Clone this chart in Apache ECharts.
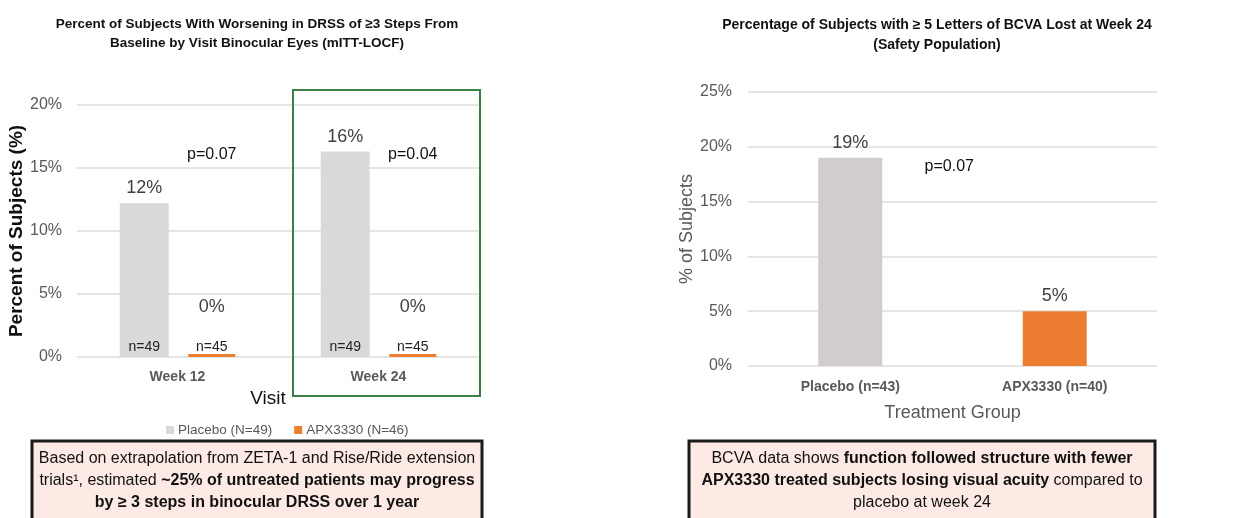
<!DOCTYPE html>
<html>
<head>
<meta charset="utf-8">
<script src="https://cdn.jsdelivr.net/npm/echarts@6/dist/echarts.min.js"></script>
<style>
  html, body { margin: 0; padding: 0; background: #fff; }
  #chart { width: 1238px; height: 518px; }
</style>
</head>
<body>
<div id="chart"></div>
<script>
// DRSS worsening by visit
var visits = ['Week 12', 'Week 24'];
var placeboDrss = [12.2, 16.3];
var apxDrss = [0, 0];
var placeboN = [49, 49];
var apxN = [45, 45];
var drssP = ['p=0.07', 'p=0.04'];

// BCVA loss at week 24
var groups = ['Placebo (n=43)', 'APX3330 (n=40)'];
var bcvaValues = [19, 5];
var bcvaP = 'p=0.07';

var FONT = 'Liberation Sans, Arial, sans-serif';
var GREY = '#595959';

var chart = echarts.init(document.getElementById('chart'));

function pct(p) { return Math.round(p.value) + '%'; }

function nMarks(cats, ns) {
    return cats.map(function (c, i) {
        return { coord: [c, 0], value: 'n=' + ns[i] };
    });
}

var option = {
    animation: false,
    textStyle: { fontFamily: FONT },
    title: [
        {
            text: 'Percent of Subjects With Worsening in DRSS of ≥3 Steps From\nBaseline by Visit Binocular Eyes (mITT-LOCF)',
            left: 252, top: 10, textAlign: 'center',
            textStyle: { fontSize: 13.5, fontWeight: 'bold', color: '#111', lineHeight: 19 }
        },
        {
            text: 'Percentage of Subjects with ≥ 5 Letters of BCVA Lost at Week 24\n(Safety Population)',
            left: 932, top: 10, textAlign: 'center',
            textStyle: { fontSize: 14, fontWeight: 'bold', color: '#111', lineHeight: 20 }
        }
    ],
    legend: {
        data: ['Placebo (N=49)', 'APX3330 (N=46)'],
        left: 161, top: 418,
        itemWidth: 8, itemHeight: 8, itemGap: 22,
        icon: 'rect',
        textStyle: { fontSize: 13.5, color: GREY, padding: [0, 0, 0, -1] }
    },
    grid: [
        { left: 77, top: 105, width: 402, height: 252 },
        { left: 748, top: 92, width: 409, height: 274 }
    ],
    xAxis: [
        {
            type: 'category', gridIndex: 0, data: visits,
            name: 'Visit', nameLocation: 'middle', nameGap: 32,
            nameTextStyle: { fontSize: 19, color: '#111', padding: [0, 20, 0, 0] },
            axisLine: { show: false }, axisTick: { show: false },
            axisLabel: { fontSize: 14, fontWeight: 'bold', color: GREY, margin: 13 }
        },
        {
            type: 'category', gridIndex: 1, data: groups,
            name: 'Treatment Group', nameLocation: 'middle', nameGap: 38,
            nameTextStyle: { fontSize: 18, color: GREY },
            axisLine: { show: false }, axisTick: { show: false },
            axisLabel: { fontSize: 14, fontWeight: 'bold', color: GREY, margin: 14 }
        }
    ],
    yAxis: [
        {
            type: 'value', gridIndex: 0, min: 0, max: 20, interval: 5,
            name: 'Percent of Subjects (%)', nameLocation: 'middle', nameGap: 49, nameRotate: 90,
            nameTextStyle: { fontSize: 19, fontWeight: 'bold', color: '#111' },
            axisLabel: { formatter: '{value}%', fontSize: 16, color: GREY, margin: 15 },
            splitLine: { lineStyle: { color: '#dcdcdc', width: 1.5 } }
        },
        {
            type: 'value', gridIndex: 1, min: 0, max: 25, interval: 5,
            name: '% of Subjects', nameLocation: 'middle', nameGap: 52, nameRotate: 90,
            nameTextStyle: { fontSize: 18, color: GREY },
            axisLabel: { formatter: '{value}%', fontSize: 16, color: GREY, margin: 16 },
            splitLine: { lineStyle: { color: '#dcdcdc', width: 1.5 } }
        }
    ],
    series: [
        {
            name: 'Placebo (N=49)', type: 'bar', xAxisIndex: 0, yAxisIndex: 0,
            data: placeboDrss, barWidth: 49, barGap: '40%',
            itemStyle: { color: '#d9d9d9' },
            label: { show: true, position: 'top', distance: 6, formatter: pct, fontSize: 18, color: '#404040' },
            markPoint: {
                symbolSize: 0,
                label: { show: true, position: 'top', distance: 3, fontSize: 14, color: '#222', formatter: '{c}' },
                data: nMarks(visits, placeboN)
            }
        },
        {
            name: 'APX3330 (N=46)', type: 'bar', xAxisIndex: 0, yAxisIndex: 0,
            data: apxDrss, barWidth: 47, barGap: '40%', barMinHeight: 3,
            itemStyle: { color: '#ed7d31' },
            label: { show: true, position: 'top', distance: 38, formatter: pct, fontSize: 18, color: '#404040' },
            markPoint: {
                symbolSize: 0,
                label: { show: true, position: 'top', distance: 3, fontSize: 14, color: '#222', formatter: '{c}' },
                data: nMarks(visits, apxN).concat(visits.map(function (c, i) {
                    return {
                        coord: [c, 16.1], value: drssP[i],
                        label: { position: 'inside', fontSize: 16, color: '#111' }
                    };
                }))
            }
        },
        {
            name: 'BCVA', type: 'bar', xAxisIndex: 1, yAxisIndex: 1,
            data: bcvaValues.map(function (v, i) {
                return { value: v, itemStyle: { color: ['#d0cdcc', '#ed7d31'][i] } };
            }),
            barWidth: 64,
            label: { show: true, position: 'top', distance: 6, formatter: pct, fontSize: 18, color: '#404040' },
            markPoint: {
                symbolSize: 0,
                label: { show: true, position: 'inside', offset: [99, 0], fontSize: 16, color: '#111', formatter: '{c}' },
                data: [{ coord: [groups[0], 18.2], value: bcvaP }]
            }
        }
    ],
    graphic: [
        {
            type: 'rect', z: 10,
            shape: { x: 293, y: 90, width: 187, height: 306 },
            style: { fill: 'none', stroke: '#3d7f45', lineWidth: 2 }
        },
        {
            type: 'group', z: 10,
            children: [
                {
                    type: 'rect',
                    shape: { x: 32, y: 441, width: 450, height: 110 },
                    style: { fill: '#fdeae4', stroke: '#1a1a1a', lineWidth: 3 }
                },
                {
                    type: 'text',
                    style: {
                        x: 257, y: 448, align: 'center', verticalAlign: 'top',
                        text: '{n|Based on extrapolation from ZETA-1 and Rise/Ride extension}\n' +
                              '{n|trials¹, estimated }{b|~25% of untreated patients may progress}\n' +
                              '{b|by ≥ 3 steps in binocular DRSS over 1 year}',
                        rich: {
                            n: { fontFamily: FONT, fontSize: 16, lineHeight: 22, fill: '#111' },
                            b: { fontFamily: FONT, fontSize: 16, lineHeight: 22, fontWeight: 'bold', fill: '#111' }
                        }
                    }
                },
                {
                    type: 'rect',
                    shape: { x: 689, y: 441, width: 466, height: 110 },
                    style: { fill: '#fdeae4', stroke: '#1a1a1a', lineWidth: 3 }
                },
                {
                    type: 'text',
                    style: {
                        x: 922, y: 448, align: 'center', verticalAlign: 'top',
                        text: '{n|BCVA data shows }{b|function followed structure with fewer}\n' +
                              '{b|APX3330 treated subjects losing visual acuity}{n| compared to}\n' +
                              '{n|placebo at week 24}',
                        rich: {
                            n: { fontFamily: FONT, fontSize: 16, lineHeight: 22, fill: '#111' },
                            b: { fontFamily: FONT, fontSize: 16, lineHeight: 22, fontWeight: 'bold', fill: '#111' }
                        }
                    }
                }
            ]
        }
    ]
};

chart.setOption(option);
window.addEventListener('resize', function () { chart.resize(); });
</script>
</body>
</html>
